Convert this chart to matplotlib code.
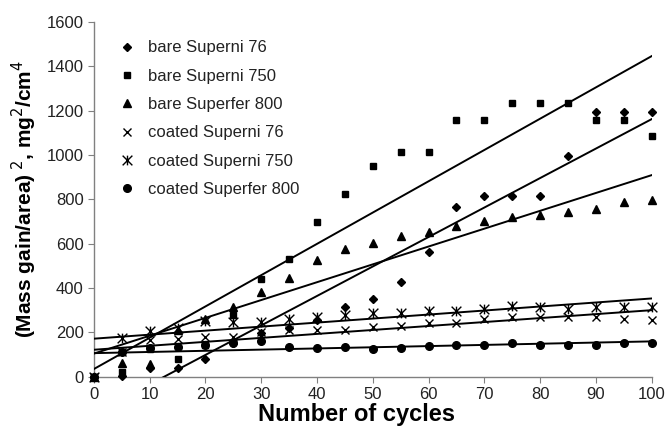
import numpy as np
import matplotlib
matplotlib.use("Agg")
import matplotlib.pyplot as plt
from matplotlib.path import Path

plt.rcParams["font.family"] = ["Liberation Sans", "DejaVu Sans"]

# ── Data ─────────────────────────────────────────────────────────

cycles = np.arange(0, 101, 5)

bare_superni76 = [0, 5, 40, 40, 80, 150, 195, 220, 255, 315, 352,
                  427, 562, 765, 817, 817, 817, 997, 1193, 1193, 1193]
bare_superni750 = [0, 22, 125, 82, 145, 277, 439, 532, 697, 825, 948,
                   1014, 1014, 1157, 1157, 1235, 1235, 1235, 1157, 1157, 1086]
bare_superfer800 = [0, 60, 55, 210, 259, 315, 382, 447, 528, 577, 605,
                    634, 652, 680, 700, 720, 731, 742, 757, 787, 795]
coated_superni76 = [0, 110, 165, 170, 180, 180, 200, 210, 210, 210, 222,
                    227, 240, 242, 262, 270, 270, 270, 270, 262, 255]
coated_superni750 = [0, 175, 208, 220, 250, 247, 247, 262, 270, 277, 285,
                     285, 295, 295, 307, 317, 314, 307, 314, 314, 314]
coated_superfer800 = [0, 112, 128, 135, 142, 150, 160, 135, 128, 132, 126,
                      130, 138, 143, 143, 153, 143, 143, 143, 153, 150]

labels = ["bare Superni 76", "bare Superni 750", "bare Superfer 800",
          "coated Superni 76", "coated Superni 750", "coated Superfer 800"]

# Excel-style "star" marker: an x with a vertical bar
star = Path([(-1, -1), (1, 1), (-1, 1), (1, -1), (0, -1), (0, 1)],
            [Path.MOVETO, Path.LINETO, Path.MOVETO, Path.LINETO,
             Path.MOVETO, Path.LINETO])

series = [
    (bare_superni76, dict(marker="D", ms=4.5)),
    (bare_superni750, dict(marker="s", ms=5)),
    (bare_superfer800, dict(marker="^", ms=6)),
    (coated_superni76, dict(marker="x", ms=6, mew=1.0)),
    (coated_superni750, dict(marker=star, ms=7, mew=1.0)),
    (coated_superfer800, dict(marker="o", ms=5.5)),
]

# ── Plot ─────────────────────────────────────────────────────────

fig = plt.figure(figsize=(6.71, 4.37), dpi=100)
ax = fig.add_axes([0.140, 0.138, 0.831, 0.812])

xfit = np.array([0, 100])
for (y, style), lab in zip(series, labels):
    ax.plot(cycles, y, linestyle="none", color="black", mfc="black",
            mec="black", label=lab, clip_on=False, zorder=4, **style)
    k, b = np.polyfit(cycles, y, 1)
    ax.plot(xfit, k * xfit + b, color="black", lw=1.4, zorder=3)

ax.set_xlim(0, 100)
ax.set_ylim(0, 1600)
ax.set_xticks(np.arange(0, 101, 10))
ax.set_yticks(np.arange(0, 1601, 200))

for side in ("top", "right"):
    ax.spines[side].set_visible(False)
for side in ("left", "bottom"):
    ax.spines[side].set_color("#808080")
    ax.spines[side].set_linewidth(1.0)
ax.tick_params(direction="out", length=4, color="#808080",
               labelsize=12, labelcolor="#222222")

ax.set_xlabel("Number of cycles", fontsize=17, fontweight="bold")
ax.xaxis.set_label_coords(0.47, -0.075)
ax.set_ylabel(r"(Mass gain/area)$^{\ 2}$, mg$^{2}$/cm$^{4}$",
              fontsize=15, fontweight="bold", labelpad=5)

ax.legend(loc="upper left", bbox_to_anchor=(0.01, 0.99), frameon=False,
          fontsize=12, handletextpad=0.5, labelspacing=0.8,
          handlelength=1.5, labelcolor="#222222")

fig.savefig("out.png", dpi=100)
